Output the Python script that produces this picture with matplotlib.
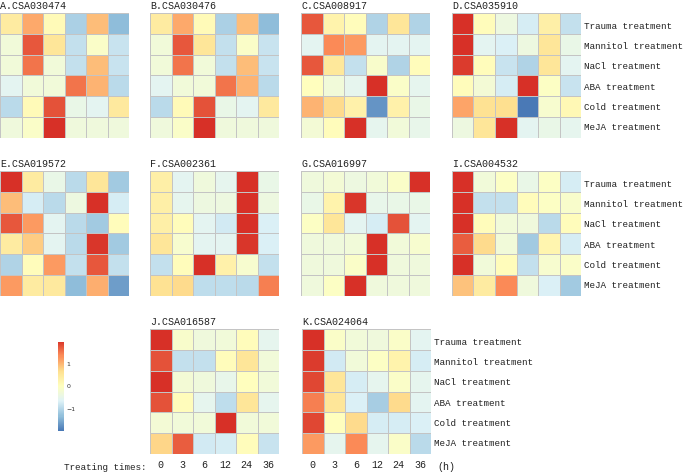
import numpy as np
import matplotlib
matplotlib.use("Agg")
import matplotlib.pyplot as plt
from matplotlib.colors import LinearSegmentedColormap

# Row and column labels shared by every heatmap
treatments = ["Trauma treatment", "Mannitol treatment", "NaCl treatment",
              "ABA treatment", "Cold treatment", "MeJA treatment"]
times = ["0", "3", "6", "12", "24", "36"]

# Scaled expression values (rows = treatments, cols = times)
panel_a = [[0.4, 1.1, 0.1, -1.1, 0.95, -1.35],
           [-0.3, 1.7, 0.55, -0.9, -0.1, -0.85],
           [-0.3, 1.5, -0.3, -0.9, 0.95, -0.85],
           [-0.6, -0.3, -0.3, 1.5, 1.0, -1.0],
           [-1.0, 0.1, 1.75, -0.45, -0.6, 0.45],
           [-0.35, -0.1, 2.0, -0.35, -0.35, -0.35]]
panel_b = [[0.4, 1.1, 0.1, -1.1, 0.95, -1.35],
           [-0.3, 1.7, 0.55, -0.9, -0.1, -0.85],
           [-0.3, 1.5, -0.3, -0.9, 0.95, -0.85],
           [-0.6, -0.3, -0.3, 1.5, 1.0, -1.0],
           [-1.0, 0.1, 1.75, -0.45, -0.6, 0.45],
           [-0.35, -0.1, 2.0, -0.35, -0.35, -0.35]]
panel_c = [[1.7, 0.25, 0.05, -1.05, 0.55, -1.05],
           [-0.6, 1.35, 1.2, -0.6, -0.6, -0.6],
           [1.7, 0.5, -0.9, -0.15, -1.05, 0.05],
           [0.0, -0.3, -0.55, 2.0, -0.1, -0.55],
           [1.0, 0.7, 0.3, -1.7, 0.3, -0.45],
           [-0.25, 0.05, 2.0, -0.55, -0.3, -0.5]]
panel_d = [[2.0, 0.05, -0.4, -0.75, 0.35, -0.9],
           [2.0, -0.6, -0.7, -0.4, 0.55, -0.45],
           [1.9, 0.05, -0.85, -1.05, 0.55, -0.6],
           [0.05, -0.25, -0.75, 2.0, -0.05, -0.85],
           [1.15, 0.6, 0.65, -1.95, -0.2, 0.15],
           [-0.4, 0.55, 2.0, -0.6, -0.45, -0.55]]
panel_e = [[2.0, 0.4, -0.45, -1.0, 0.55, -1.2],
           [0.95, -0.75, -1.0, -0.4, 2.0, -0.75],
           [1.7, 1.2, -0.6, -1.0, -1.2, 0.05],
           [0.4, 0.8, -0.6, -1.0, 1.95, -1.2],
           [-1.05, 0.05, 1.2, -0.9, 1.7, -0.9],
           [1.2, 0.4, 0.45, -1.35, 1.05, -1.6]]
panel_f = [[0.35, -0.6, -0.35, -0.55, 2.0, -0.45],
           [0.35, -0.55, -0.4, -0.4, 2.0, -0.4],
           [0.35, 0.05, -0.6, -0.8, 2.0, -0.7],
           [0.55, -0.2, -0.6, -0.6, 1.95, -0.7],
           [-0.9, 0.05, 2.0, 0.3, -0.2, -0.9],
           [0.6, 0.7, -0.95, -0.95, -1.0, 1.4]]
panel_g = [[-0.35, -0.25, -0.4, -0.3, -0.1, 2.0],
           [-0.45, 0.25, 1.95, -0.5, -0.45, -0.45],
           [-0.05, 0.55, -0.6, -0.75, 1.75, -0.6],
           [-0.35, -0.35, -0.3, 2.0, -0.3, -0.2],
           [-0.35, -0.35, -0.1, 2.0, -0.35, -0.35],
           [-0.35, -0.05, 2.0, -0.35, -0.35, -0.35]]
panel_i = [[2.0, -0.3, -0.05, -0.45, -0.05, -0.75],
           [2.0, -0.9, -0.9, 0.05, -0.05, -0.15],
           [2.0, 0.05, -0.3, -0.35, -1.0, 0.05],
           [1.65, 0.7, -0.3, -1.2, 0.2, -0.75],
           [2.0, -0.3, 0.05, -0.9, -0.2, -0.1],
           [0.9, 0.4, 1.35, -0.35, -0.7, -1.2]]
panel_j = [[2.0, -0.15, -0.35, -0.3, 0.05, -0.55],
           [1.75, -0.9, -0.9, 0.05, 0.55, -0.3],
           [2.0, -0.25, -0.35, -0.5, 0.0, -0.3],
           [1.75, 0.05, -0.55, -0.95, 0.55, -0.55],
           [-0.25, -0.3, -0.3, 2.0, -0.3, -0.3],
           [0.75, 1.65, -0.8, -0.75, 0.05, -0.85]]
panel_k = [[2.0, -0.1, -0.3, -0.35, -0.1, -0.6],
           [1.9, -0.8, -0.3, -0.05, 0.25, -0.75],
           [1.8, 0.55, -0.75, -0.55, -0.1, -0.55],
           [1.4, 0.55, -0.7, -1.15, 0.7, -0.6],
           [1.8, 0.0, 0.7, -0.75, -0.75, -0.7],
           [1.2, -0.55, 1.35, -0.55, -0.1, -1.0]]

titles = ["A.CSA030474", "B.CSA030476", "C.CSA008917", "D.CSA035910",
          "E.CSA019572", "F.CSA002361", "G.CSA016997", "I.CSA004532",
          "J.CSA016587", "K.CSA024064"]
panels = [panel_a, panel_b, panel_c, panel_d, panel_e,
          panel_f, panel_g, panel_i, panel_j, panel_k]

# pheatmap default palette
cmap = LinearSegmentedColormap.from_list(
    "pheat", ["#4575b4", "#91bfdb", "#e0f3f8", "#ffffbf",
              "#fee090", "#fc8d59", "#d73027"], N=100)

W, H = 685, 473
fig = plt.figure(figsize=(W / 100, H / 100), dpi=100)

mono = "Liberation Mono"
txt_col = "#222222"

# left, top (pixels) for each heatmap
pos = [(0, 13), (150, 13), (301, 13), (452, 13),
       (0, 171), (150, 171), (301, 171), (452, 171),
       (150, 329), (302, 329)]
pw, ph = 129, 125
label_panels = {3, 7, 9}   # panels with treatment names on the right
tick_panels = {8, 9}       # panels with time labels below

for k, (data, title) in enumerate(zip(panels, titles)):
    x0, y0 = pos[k]
    ax = fig.add_axes([x0 / W, 1 - (y0 + ph) / H, pw / W, ph / H])
    ax.pcolormesh(np.array(data), cmap=cmap, vmin=-2, vmax=2,
                  edgecolors="#c4c4c4", linewidth=0.7)
    ax.set_xlim(0, 6)
    ax.set_ylim(6, 0)
    for s in ax.spines.values():
        s.set_visible(False)
    ax.set_xticks([])
    ax.set_yticks([])
    ax.text(0.0, 1.015, title, transform=ax.transAxes, ha="left", va="bottom",
            fontsize=7.2, family=mono, color=txt_col)
    if k in label_panels:
        for i, lab in enumerate(treatments):
            ax.text(6.12, 0.65 + 0.97 * i, lab, ha="left", va="center",
                    fontsize=6.7, family=mono, color=txt_col, clip_on=False)
    if k in tick_panels:
        for j, t in enumerate(times):
            ax.text(j + 0.5, 6.55, t, ha="center", va="center",
                    fontsize=7.2, family=mono, color=txt_col, clip_on=False)

# extra labels for the time axis
fig.text(146 / W, 1 - 467 / H, "Treating times:", ha="right", va="center",
         fontsize=6.7, family=mono, color=txt_col)
fig.text(437 / W, 1 - 467 / H, "(h)", ha="left", va="center",
         fontsize=7.2, family=mono, color=txt_col)

# colour key
cax = fig.add_axes([58 / W, 1 - 431 / H, 6 / W, 89 / H])
grad = np.linspace(-1.95, 1.95, 100).reshape(-1, 1)
cax.imshow(grad, aspect="auto", cmap=cmap, vmin=-2, vmax=2, origin="lower",
           extent=[0, 1, -1.95, 1.95])
cax.set_xticks([])
cax.yaxis.tick_right()
cax.set_yticks([-1, 0, 1])
cax.set_yticklabels(["\u22121", "0", "1"])
cax.tick_params(axis="y", length=0, pad=2, labelsize=4.5, colors="#333333")
for s in cax.spines.values():
    s.set_visible(False)

fig.savefig("out.png", dpi=100, facecolor="white")
